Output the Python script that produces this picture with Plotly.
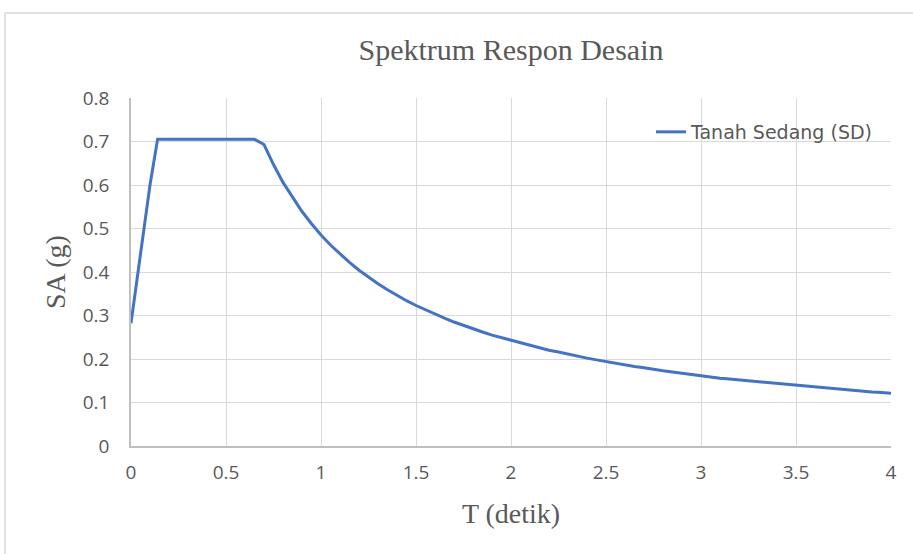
import plotly.graph_objects as go

# Data
periods = [0.0, 0.1, 0.14, 0.2, 0.3, 0.4, 0.5, 0.6, 0.65,
           0.7, 0.75, 0.8, 0.85, 0.9, 0.95, 1.0, 1.05, 1.1, 1.15, 1.2, 1.25,
           1.3, 1.35, 1.4, 1.45, 1.5, 1.55, 1.6, 1.65, 1.7, 1.75, 1.8, 1.85,
           1.9, 1.95, 2.0, 2.05, 2.1, 2.15, 2.2, 2.25, 2.3, 2.35, 2.4, 2.45,
           2.5, 2.55, 2.6, 2.65, 2.7, 2.75, 2.8, 2.85, 2.9, 2.95, 3.0, 3.05,
           3.1, 3.15, 3.2, 3.25, 3.3, 3.35, 3.4, 3.45, 3.5, 3.55, 3.6, 3.65,
           3.7, 3.75, 3.8, 3.85, 3.9, 3.95, 4.0]
sa_values = [0.282, 0.600, 0.705, 0.705, 0.705, 0.705, 0.705, 0.705, 0.705,
             0.693, 0.647, 0.606, 0.571, 0.539, 0.511, 0.485, 0.462, 0.441, 0.422, 0.404, 0.388,
             0.373, 0.359, 0.346, 0.334, 0.323, 0.313, 0.303, 0.294, 0.285, 0.277, 0.269, 0.262,
             0.255, 0.249, 0.243, 0.237, 0.231, 0.226, 0.220, 0.216, 0.211, 0.206, 0.202, 0.198,
             0.194, 0.190, 0.187, 0.183, 0.180, 0.176, 0.173, 0.170, 0.167, 0.164, 0.162, 0.159,
             0.156, 0.154, 0.152, 0.149, 0.147, 0.145, 0.143, 0.141, 0.139, 0.137, 0.135, 0.133,
             0.131, 0.129, 0.128, 0.126, 0.124, 0.123, 0.121]
series_name = "Tanah Sedang (SD)"
x_ticks = [0, 0.5, 1, 1.5, 2, 2.5, 3, 3.5, 4]
x_tick_labels = ["0", "0.5", "1", "1.5", "2", "2.5", "3", "3.5", "4"]
y_ticks = [0, 0.1, 0.2, 0.3, 0.4, 0.5, 0.6, 0.7, 0.8]
y_tick_labels = ["0", "0.1", "0.2", "0.3", "0.4", "0.5", "0.6", "0.7", "0.8"]

W, H = 913, 554
L, R, T, B = 131, 22, 98, 108
pw, ph = W - L - R, H - T - B

def px_x(p):
    return (p - L) / pw

def px_y(p):
    return (H - B - p) / ph

fig = go.Figure()
fig.add_trace(go.Scatter(
    x=periods, y=sa_values, mode="lines", name=series_name,
    line=dict(color="#4472C4", width=3),
))

tick_font = dict(family="Open Sans", size=19, color="#595959")
title_font = dict(family="Liberation Serif", size=28, color="#595959")

fig.update_layout(
    width=W, height=H,
    margin=dict(l=L, r=R, t=T, b=B),
    paper_bgcolor="white", plot_bgcolor="white",
    title=dict(text="Spektrum Respon Desain", x=0.5, xref="paper", xanchor="center",
               y=1 - 49 / H, yanchor="middle",
               font=dict(family="Liberation Serif", size=30, color="#595959")),
    showlegend=True,
    legend=dict(x=px_x(878), y=px_y(113), xanchor="right", yanchor="top",
                bgcolor="rgba(0,0,0,0)", font=dict(family="DejaVu Sans", size=19, color="#595959")),
    xaxis=dict(range=[0, 4], tickvals=x_ticks, ticktext=x_tick_labels,
               showgrid=True, gridcolor="#d9d9d9", gridwidth=1.3,
               showline=True, linecolor="#bfbfbf", linewidth=1.5,
               ticks="outside", ticklen=8, tickcolor="rgba(0,0,0,0)",
               tickfont=tick_font, zeroline=False,
               title=dict(text="T (detik)", font=title_font, standoff=20)),
    yaxis=dict(range=[0, 0.8], tickvals=y_ticks, ticktext=y_tick_labels,
               showgrid=True, gridcolor="#d9d9d9", gridwidth=1.3,
               showline=True, linecolor="#bfbfbf", linewidth=1.5,
               ticks="outside", ticklen=16, tickcolor="rgba(0,0,0,0)",
               tickfont=tick_font, zeroline=False,
               title=dict(text="SA (g)", font=title_font, standoff=9)),
    shapes=[
        dict(type="line", xref="paper", yref="paper",
             x0=px_x(5), x1=px_x(913), y0=px_y(13), y1=px_y(13),
             line=dict(color="#d9d9d9", width=1.5)),
        dict(type="line", xref="paper", yref="paper",
             x0=px_x(5), x1=px_x(5), y0=px_y(13), y1=px_y(560),
             line=dict(color="#d9d9d9", width=1.5)),
    ],
)

fig.write_html("out.html", config={"displayModeBar": False},
               post_script="document.body.style.margin='0px';document.body.style.overflow='hidden';")
